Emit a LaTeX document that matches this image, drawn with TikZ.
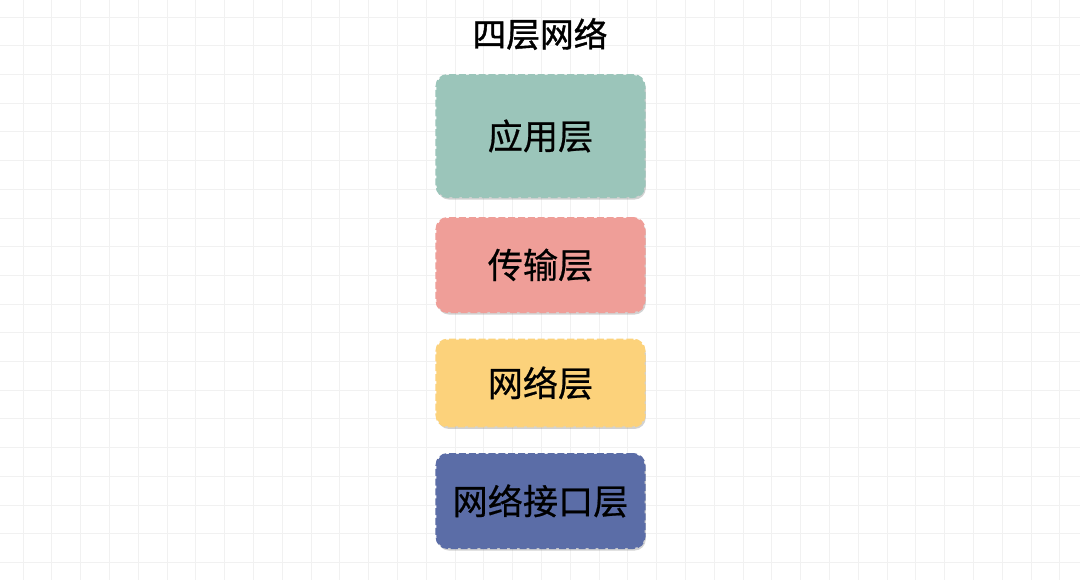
\documentclass[tikz,border=0pt]{standalone}
\usepackage{fontspec}
\usepackage{xcolor}
\usepackage{tikz}
\setmainfont{Noto Sans CJK SC}
\newfontfamily\titlecjk{Noto Sans CJK SC}[FakeBold=1.2]
\newfontfamily\boxcjk{Noto Sans CJK SC}[FakeBold=0.6]
\usetikzlibrary{shadows,positioning}

\definecolor{appcol}{HTML}{9BC5BA}
\definecolor{transcol}{HTML}{EF9E98}
\definecolor{netcol}{HTML}{FCD27B}
\definecolor{linkcol}{HTML}{5B6DA7}
\definecolor{gridcol}{HTML}{F1F1F1}

\begin{document}
\begin{tikzpicture}[x=0.025cm,y=-0.025cm,
    layerbox/.style={rounded corners=0.28cm, dash pattern=on 5pt off 2pt, line width=1.4pt,
        minimum width=5.2cm, inner sep=0pt,
        drop shadow={opacity=0.35, shadow xshift=0.9pt, shadow yshift=-1.8pt},
        font=\boxcjk\fontsize{25}{28}\selectfont},
    titlefont/.style={font=\titlecjk\fontsize{24}{28}\selectfont}]
    % Background and grid
    \useasboundingbox (0,0) rectangle (1080,580);
    \fill[white] (0,0) rectangle (1080,580);
    \foreach \gx in {0,...,36} \draw[gridcol, line width=0.5pt] (23+28.8*\gx,0) -- (23+28.8*\gx,580);
    \foreach \gy in {0,...,19} \draw[gridcol, line width=0.5pt] (0,17+28.7*\gy) -- (1080,17+28.7*\gy);

    % Title
    \node[titlefont] (title) at (540,34) {四层网络};

    % Layers
    \node[layerbox, fill=appcol, draw=appcol, minimum height=3.05cm] (app) at (540.5,136) {应用层};
    \node[layerbox, fill=transcol, draw=transcol, minimum height=2.35cm] (trans) at (540.5,265) {传输层};
    \node[layerbox, fill=netcol, draw=netcol, minimum height=2.17cm] (net) at (540.5,383) {网络层};
    \node[layerbox, fill=linkcol, draw=linkcol, minimum height=2.35cm] (link) at (540.5,501) {网络接口层};
\end{tikzpicture}
\end{document}
